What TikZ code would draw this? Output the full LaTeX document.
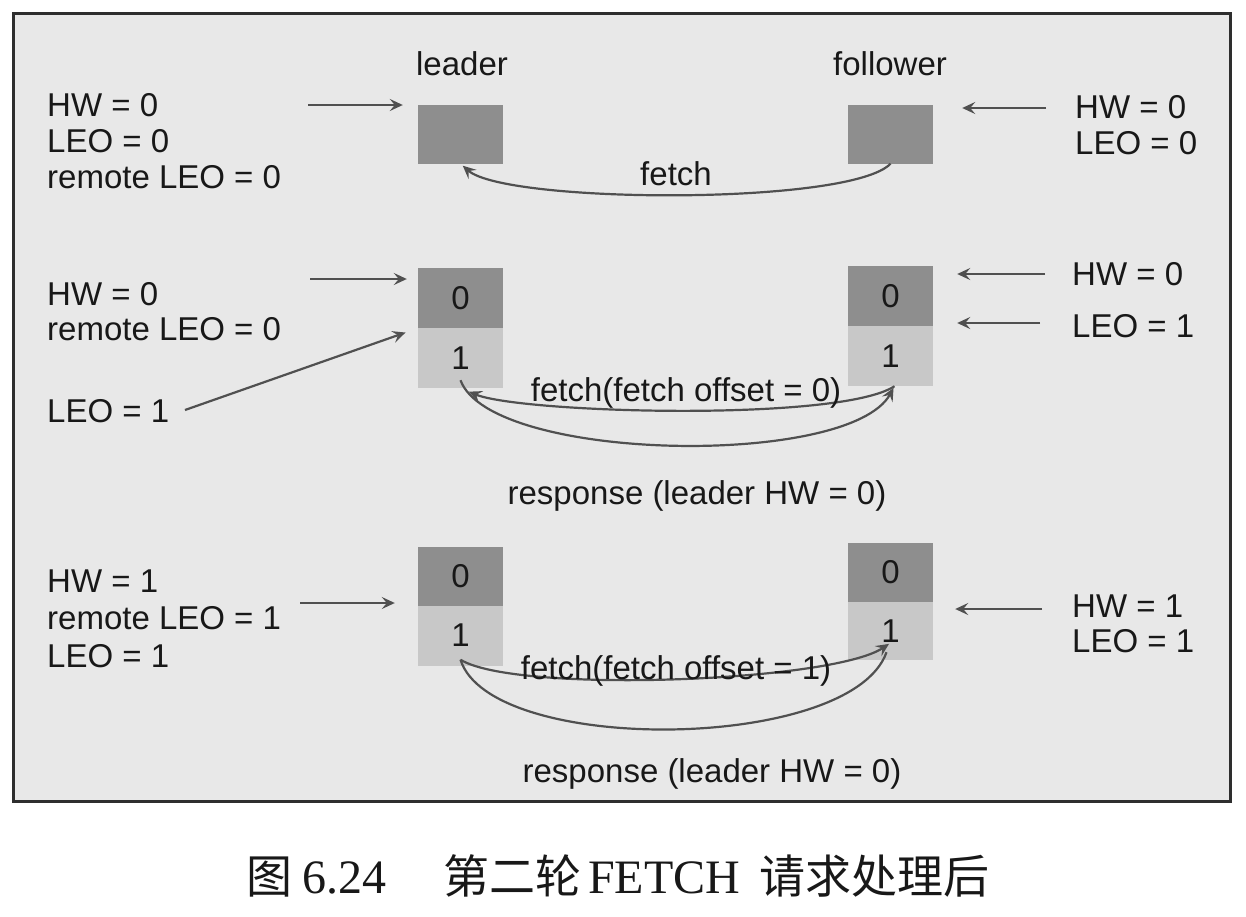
\documentclass[tikz,border=0pt]{standalone}
\usepackage{fontspec}
\setmainfont{Liberation Serif}
\newfontfamily\labfont{Liberation Sans}
\newfontfamily\cjk{Noto Sans CJK SC}
\usetikzlibrary{arrows.meta}
\definecolor{bgc}{HTML}{E8E8E8}
\definecolor{framec}{HTML}{2E2E2E}
\definecolor{darkc}{HTML}{8E8E8E}
\definecolor{lightc}{HTML}{C8C8C8}
\definecolor{arrc}{HTML}{505050}
\definecolor{txtc}{HTML}{181818}
\begin{document}
\begin{tikzpicture}[x=1pt,y=-1pt,
  lbl/.style={font=\labfont\fontsize{33}{36}\selectfont, text=txtc, inner sep=0pt},
  dbox/.style={fill=darkc, draw=none, minimum width=85pt, minimum height=59pt, inner sep=0pt,
     font=\labfont\fontsize{33}{36}\selectfont, text=txtc},
  lbox/.style={dbox, fill=lightc},
  arr/.style={draw=arrc, line width=2.2pt, -{Stealth[length=13pt,width=12pt,inset=5pt]}},
  cur/.style={draw=arrc, line width=2.2pt},
  cura/.style={cur, -{Stealth[length=13pt,width=12pt,inset=5pt]}},
  capc/.style={font=\cjk\fontsize{46}{50}\selectfont, text=txtc, inner sep=0pt, anchor=base west},
  capl/.style={font=\fontsize{48}{52}\selectfont, text=txtc, inner sep=0pt, anchor=base west}
]
\useasboundingbox (0,0) rectangle (1246,916);
\fill[white] (0,0) rectangle (1246,916);
\draw[line width=3pt, draw=framec, fill=bgc] (13,13) rectangle (1230,801);

% headers
\node[lbl, anchor=base] (ldr) at (462,75) {leader};
\node[lbl, anchor=base] (flw) at (890,75) {follower};

% ---------- row 1 ----------
\node[dbox] (lb1) at (460.5,134) {};
\node[dbox] (fb1) at (890.5,134) {};
\node[lbl, anchor=base west] (l1a) at (47,116) {HW = 0};
\node[lbl, anchor=base west] (l1b) at (47,152) {LEO = 0};
\node[lbl, anchor=base west] (l1c) at (47,188) {remote LEO = 0};
\node[lbl, anchor=base west] (r1a) at (1075,118) {HW = 0};
\node[lbl, anchor=base west] (r1b) at (1075,154) {LEO = 0};
\coordinate (t1) at (308,105);
\coordinate (u1) at (1046,108);
\draw[arr, shorten >=15pt] (t1) -- (t1 -| lb1.west);
\draw[arr, shorten >=29pt] (u1) -- (u1 -| fb1.east);
\draw[cura, shorten >=3pt] (fb1.south) .. controls +(-40,42) and +(45,40) .. (lb1.south);
\node[lbl, anchor=base] (f1) at (676,185) {fetch};

% ---------- row 2 ----------
\node[dbox, minimum height=60pt] (lb2a) at (460.5,298) {0};
\node[lbox, minimum height=60pt] (lb2b) at (460.5,358) {1};
\node[dbox, minimum height=60pt] (fb2a) at (890.5,296) {0};
\node[lbox, minimum height=60pt] (fb2b) at (890.5,356) {1};
\node[lbl, anchor=base west] (l2a) at (47,305) {HW = 0};
\node[lbl, anchor=base west] (l2b) at (47,340) {remote LEO = 0};
\node[lbl, anchor=base west] (l2c) at (47,422) {LEO = 1};
\node[lbl, anchor=base west] (r2a) at (1072,285) {HW = 0};
\node[lbl, anchor=base west] (r2b) at (1072,337) {LEO = 1};
\coordinate (t2) at (310,279);
\coordinate (t3) at (185,410);
\coordinate (u2) at (1045,274);
\coordinate (u3) at (1040,323);
\draw[arr, shorten >=11pt] (t2) -- (t2 -| lb2a.west);
\draw[arr, shorten >=13pt] (t3) -- (lb2a.south west);
\draw[arr, shorten >=24pt] (u2) -- (u2 -| fb2a.east);
\draw[arr, shorten >=24pt] (u3) -- (u3 -| fb2b.east);
\draw[cura, shorten >=9pt] ([xshift=4pt]fb2b.south) .. controls +(-55,36) and +(60,25) .. (lb2b.south);
\draw[cura, shorten >=2pt] ([yshift=8pt]lb2b.south) .. controls +(30,82) and +(-45,82) .. ([xshift=4pt]fb2b.south);
\node[lbl, anchor=base] (f2) at (686,401) {fetch(fetch offset = 0)};
\node[lbl, anchor=base] (s2) at (697,504) {response (leader HW = 0)};

% ---------- row 3 ----------
\node[dbox, minimum height=59pt] (lb3a) at (460.5,576) {0};
\node[lbox, minimum height=60pt] (lb3b) at (460.5,635.5) {1};
\node[dbox, minimum height=59pt] (fb3a) at (890.5,572.5) {0};
\node[lbox, minimum height=58pt] (fb3b) at (890.5,631) {1};
\node[lbl, anchor=base west] (l3a) at (47,592) {HW = 1};
\node[lbl, anchor=base west] (l3b) at (47,629) {remote LEO = 1};
\node[lbl, anchor=base west] (l3c) at (47,667) {LEO = 1};
\node[lbl, anchor=base west] (r3a) at (1072,617) {HW = 1};
\node[lbl, anchor=base west] (r3b) at (1072,652) {LEO = 1};
\coordinate (t4) at (300,603);
\coordinate (u4) at (1042,609);
\draw[arr, shorten >=23pt] (t4) -- (t4 -| lb3a.west);
\draw[arr, shorten >=22pt] (u4) -- (u4 -| fb3b.east);
\draw[cura, shorten >=3pt] ([yshift=6pt]lb3b.south) .. controls +(55,34) and +(-60,40) .. ([xshift=1pt,yshift=18pt]fb3b.south);
\draw[cur] ([yshift=6pt]lb3b.south) .. controls +(30,96) and +(-35,100) .. ([xshift=-4pt,yshift=8pt]fb3b.south);
\node[lbl, anchor=base] (f3) at (676,679) {fetch(fetch offset = 1)};
\node[lbl, anchor=base] (s3) at (712,782) {response (leader HW = 0)};

% ---------- caption ----------
\node[capc] (c1) at (246,893) {图};
\node[capl] (c2) at (302,893) {6.24};
\node[capc] (c3) at (443,893) {第二轮};
\node[capl] (c4) at (588,893) {FETCH};
\node[capc] (c5) at (759,893) {请求处理后};
\end{tikzpicture}
\end{document}
